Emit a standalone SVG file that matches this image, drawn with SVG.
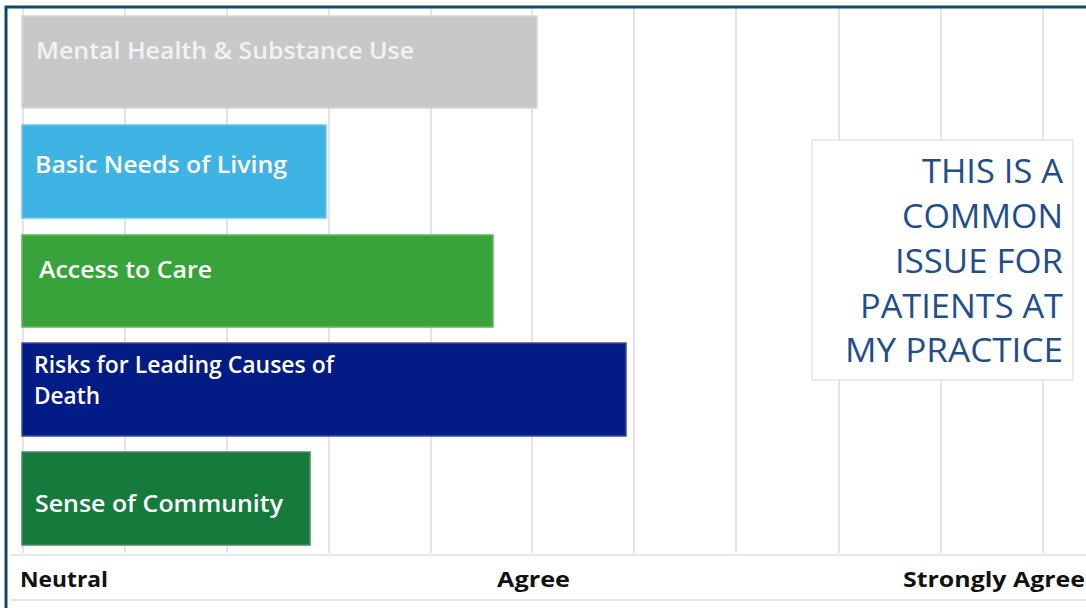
<svg xmlns="http://www.w3.org/2000/svg" width="1086" height="608" viewBox="0 0 1086 608">
<style>
.grid line{stroke:#e4e4e4;stroke-width:2}
.bar{stroke-width:1.5}
.bl{font-family:"Open Sans","Liberation Sans",sans-serif;font-weight:600;font-size:23px;fill:#ffffff}
.ax{font-family:"Open Sans","Liberation Sans",sans-serif;font-weight:700;font-size:21px;fill:#111111}
.note{font-family:"Open Sans","Liberation Sans",sans-serif;font-size:33px;fill:#1f4e8c;text-anchor:end}
</style>
<rect x="0" y="0" width="1086" height="608" fill="#ffffff"/>
<g id="grid" class="grid">
<line x1="23" y1="8" x2="23" y2="553"/>
<line x1="125" y1="8" x2="125" y2="553"/>
<line x1="227" y1="8" x2="227" y2="553"/>
<line x1="329" y1="8" x2="329" y2="553"/>
<line x1="431" y1="8" x2="431" y2="553"/>
<line x1="532" y1="8" x2="532" y2="553"/>
<line x1="634" y1="8" x2="634" y2="553"/>
<line x1="736" y1="8" x2="736" y2="553"/>
<line x1="839" y1="8" x2="839" y2="553"/>
<line x1="941" y1="8" x2="941" y2="553"/>
<line x1="1043" y1="8" x2="1043" y2="553"/>
</g>
<g id="axis">
<line x1="10" y1="555" x2="1086" y2="555" stroke="#e0e0e0" stroke-width="1.5"/>
<line x1="10" y1="600" x2="1086" y2="600" stroke="#e0e0e0" stroke-width="1.5"/>
<text class="ax" x="20" y="587" textLength="88" lengthAdjust="spacingAndGlyphs">Neutral</text>
<text class="ax" x="497" y="587" textLength="73" lengthAdjust="spacingAndGlyphs">Agree</text>
<text class="ax" x="903" y="587" textLength="182" lengthAdjust="spacingAndGlyphs">Strongly Agree</text>
</g>
<g id="bar-mental">
<rect class="bar" x="22" y="16" width="515" height="92" fill="#c8c8c8" stroke="#d6d6d6"/>
<text class="bl" x="36" y="59" style="fill:#f2f2f2" textLength="378" lengthAdjust="spacingAndGlyphs">Mental Health &amp; Substance Use</text>
</g>
<g id="bar-basic">
<rect class="bar" x="22" y="125" width="304" height="93" fill="#3eb4e4" stroke="#6cc6ea"/>
<text class="bl" x="35" y="173" textLength="252" lengthAdjust="spacingAndGlyphs">Basic Needs of Living</text>
</g>
<g id="bar-access">
<rect class="bar" x="22" y="235" width="471" height="92" fill="#38a33a" stroke="#5fb860"/>
<text class="bl" x="39" y="278" textLength="173" lengthAdjust="spacingAndGlyphs">Access to Care</text>
</g>
<g id="bar-risks">
<rect class="bar" x="22" y="343" width="604" height="93" fill="#021b85" stroke="#3a4fa0"/>
<text class="bl" x="34" y="373" textLength="300" lengthAdjust="spacingAndGlyphs">Risks for Leading Causes of</text>
<text class="bl" x="34" y="404" textLength="66" lengthAdjust="spacingAndGlyphs">Death</text>
</g>
<g id="bar-community">
<rect class="bar" x="22" y="452" width="288" height="93" fill="#167a3d" stroke="#3f9160"/>
<text class="bl" x="35" y="512" textLength="248" lengthAdjust="spacingAndGlyphs">Sense of Community</text>
</g>
<g id="note">
<rect x="812" y="140" width="261" height="240" fill="#ffffff" stroke="#e4e4e4" stroke-width="1.5"/>
<text class="note" x="1063" y="183" textLength="141" lengthAdjust="spacingAndGlyphs">THIS IS A</text>
<text class="note" x="1063" y="228" textLength="161" lengthAdjust="spacingAndGlyphs">COMMON</text>
<text class="note" x="1063" y="273" textLength="168" lengthAdjust="spacingAndGlyphs">ISSUE FOR</text>
<text class="note" x="1063" y="318" textLength="203" lengthAdjust="spacingAndGlyphs">PATIENTS AT</text>
<text class="note" x="1063" y="362" textLength="218" lengthAdjust="spacingAndGlyphs">MY PRACTICE</text>
</g>
<g id="frame">
<line x1="5" y1="7" x2="1086" y2="7" stroke="#0e4a6e" stroke-width="3"/>
<line x1="6" y1="6" x2="6" y2="608" stroke="#0e4a6e" stroke-width="3"/>
</g>
</svg>
